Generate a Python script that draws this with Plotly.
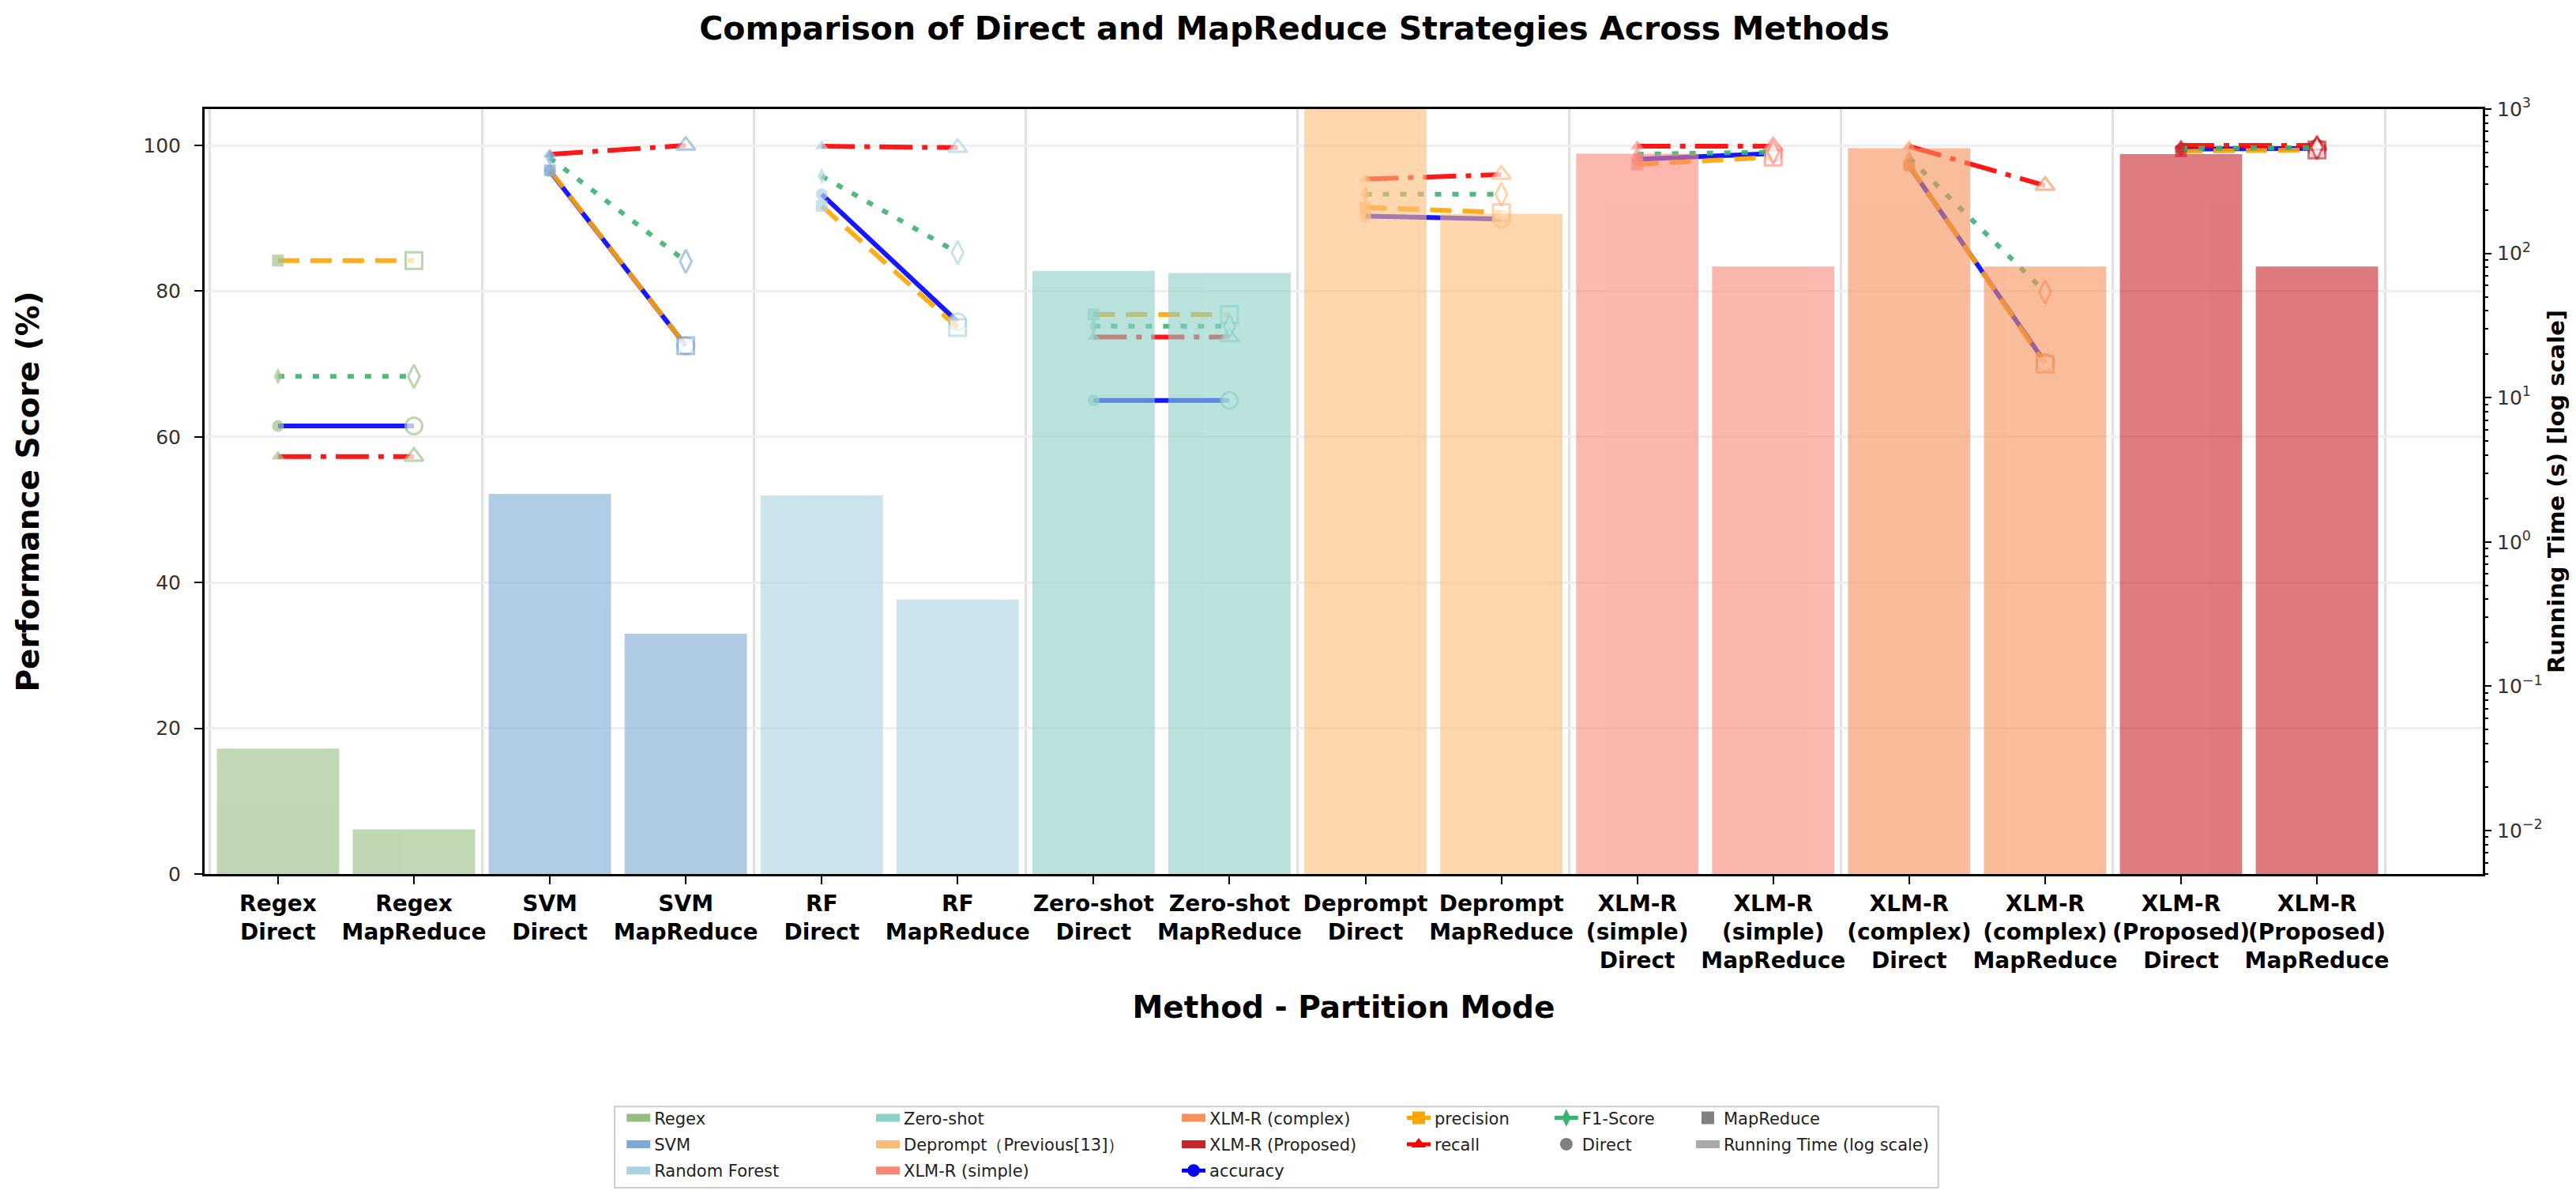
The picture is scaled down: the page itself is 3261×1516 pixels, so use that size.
import math
import plotly.graph_objects as go

FONT = "DejaVu Sans"

# categories
methods = ["Regex", "SVM", "Random Forest", "Zero-shot", "Deprompt（Previous[13]）",
           "XLM-R (simple)", "XLM-R (complex)", "XLM-R (Proposed)"]
tick_names = ["Regex", "SVM", "RF", "Zero-shot", "Deprompt",
              "XLM-R<br>(simple)", "XLM-R<br>(complex)", "XLM-R<br>(Proposed)"]
modes = ["Direct", "MapReduce"]
method_colors = ["#96BE82", "#7DAAD7", "#AAD2E1", "#8CD0C8",
                 "#FFBC78", "#FA8778", "#F5915A", "#C82328"]

# performance scores (%)
accuracy_direct = [61.5, 96.5, 93.3, 65.0, 90.3, 98.1, 97.2, 99.5]
accuracy_mapreduce = [61.5, 72.5, 75.8, 65.0, 89.9, 98.9, 70.2, 99.6]
precision_direct = [84.2, 96.6, 91.7, 76.8, 91.5, 97.4, 97.3, 99.2]
precision_mapreduce = [84.2, 72.5, 75.0, 76.8, 90.8, 98.4, 70.0, 99.4]
recall_direct = [57.3, 98.8, 99.9, 73.7, 95.4, 99.9, 99.9, 100.0]
recall_mapreduce = [57.3, 100.0, 99.7, 73.7, 96.0, 99.9, 94.5, 100.0]
f1_direct = [68.3, 98.3, 95.8, 75.2, 93.3, 98.8, 98.3, 99.6]
f1_mapreduce = [68.3, 84.1, 85.3, 75.2, 93.3, 99.1, 79.9, 99.7]

# running time (s)
time_direct = [0.037, 2.15, 2.1, 75.7, 1100, 490, 535, 487]
time_mapreduce = [0.0102, 0.231, 0.399, 73.1, 188, 81, 81, 81]

# right axis ticks
time_tickvals = [0.01, 0.1, 1, 10, 100, 1000]
time_ticktext = ["10<sup>−2</sup>", "10<sup>−1</sup>", "10<sup>0</sup>",
                 "10<sup>1</sup>", "10<sup>2</sup>", "10<sup>3</sup>"]

metrics = ["accuracy", "precision", "recall", "F1-Score"]
metric_colors = ["#0000FF", "#FFA500", "#FF0000", "#3CB371"]
metric_dash = ["solid", "27px,14px", "42px,12px,7px,12px", "8px,14px"]
metric_symbols = ["circle", "square", "triangle-up", "diamond-tall"]
metric_direct = [accuracy_direct, precision_direct, recall_direct, f1_direct]
metric_mapreduce = [accuracy_mapreduce, precision_mapreduce, recall_mapreduce, f1_mapreduce]

fig = go.Figure()

# Direct -> MapReduce lines per method and metric (drawn under the bars)
for i, col in enumerate(method_colors):
    for m in range(len(metrics)):
        fig.add_trace(go.Scatter(
            x=[2 * i, 2 * i + 1],
            y=[metric_direct[m][i], metric_mapreduce[m][i]],
            mode="lines+markers",
            line=dict(color=metric_colors[m], width=6, dash=metric_dash[m]),
            opacity=0.9,
            marker=dict(symbol=metric_symbols[m], size=[15, 21],
                        color=[col, "white"],
                        line=dict(color=col, width=[0, 3])),
            showlegend=False,
        ))

# running time bars on log axis
for i, col in enumerate(method_colors):
    fig.add_trace(go.Bar(
        x=[2 * i, 2 * i + 1],
        y=[time_direct[i], time_mapreduce[i]],
        yaxis="y2",
        width=0.9,
        marker=dict(color=col, line=dict(width=0)),
        opacity=0.6,
        showlegend=False,
    ))

# legend entries, laid out column by column (thick line = colour swatch)
legend_cols = ["legend", "legend", "legend", "legend2", "legend2", "legend2",
               "legend3", "legend3"]
for i, name in enumerate(methods):
    fig.add_trace(go.Scatter(x=[None], y=[None], mode="lines", name=name,
                             line=dict(color=method_colors[i], width=14),
                             legend=legend_cols[i], legendgroup=name))
metric_legends = ["legend3", "legend4", "legend4", "legend5"]
for m, name in enumerate(metrics):
    fig.add_trace(go.Scatter(
        x=[None], y=[None], mode="lines+markers", name=name,
        line=dict(color=metric_colors[m], width=5, dash="solid"),
        marker=dict(symbol=metric_symbols[m], size=16, color=metric_colors[m]),
        legend=metric_legends[m], legendgroup=name))
fig.add_trace(go.Scatter(x=[None], y=[None], mode="markers", name="Direct",
                         marker=dict(symbol="circle", size=16, color="#808080"),
                         legend="legend5", legendgroup="Direct"))
fig.add_trace(go.Scatter(x=[None], y=[None], mode="markers", name="MapReduce",
                         marker=dict(symbol="square", size=16, color="#808080"),
                         legend="legend6", legendgroup="MapReduce"))
fig.add_trace(go.Scatter(x=[None], y=[None], mode="lines", name="Running Time (log scale)",
                         line=dict(color="#AAAAAA", width=14),
                         legend="legend6", legendgroup="Running Time"))

tickvals = list(range(2 * len(methods)))
ticktext = []
for name in tick_names:
    for mode in modes:
        lines = name.split("<br>") + [mode]
        ticktext.append("<br>".join(f"<b>{s}</b>" for s in lines))

leg_common = dict(xanchor="left", yanchor="top", orientation="v",
                  bgcolor="rgba(0,0,0,0)", borderwidth=0, tracegroupgap=3,
                  font=dict(family=FONT, size=21, color="#222222"))
leg_x = [0.1835, 0.2930, 0.4272, 0.5260, 0.5908, 0.6529]
leg_y = -0.298

layout_legends = {}
for k, lx in enumerate(leg_x):
    key = "legend" if k == 0 else f"legend{k + 1}"
    layout_legends[key] = dict(x=lx, y=leg_y, **leg_common)

fig.update_layout(
    width=3261, height=1516,
    margin=dict(l=251, r=126, t=130, b=418),
    paper_bgcolor="white", plot_bgcolor="white",
    font=dict(family=FONT, color="black"),
    barmode="overlay",
    title=dict(text="<b>Comparison of Direct and MapReduce Strategies Across Methods</b>",
               x=0.5, xanchor="center", y=0.982, yanchor="middle",
               font=dict(family=FONT, size=41, color="black")),
    xaxis=dict(range=[-0.54, 16.22], tickvals=tickvals, ticktext=ticktext,
               tickangle=0,
               tickfont=dict(family=FONT, size=28, color="black"),
               ticks="outside", ticklen=10, tickwidth=2, tickcolor="black",
               ticklabelstandoff=0,
               showline=True, linecolor="black", linewidth=3, mirror=True,
               showgrid=False, zeroline=False, automargin=False,
               minor=dict(tick0=-0.5, dtick=2, showgrid=True,
                          gridcolor="rgba(200,200,200,0.55)", gridwidth=3, ticks=""),
               title=dict(text="<b>Method - Partition Mode</b>", standoff=30,
                          font=dict(family=FONT, size=39, color="black"))),
    yaxis=dict(range=[0, 105], tickvals=[0, 20, 40, 60, 80, 100],
               tickfont=dict(family=FONT, size=25, color="#333333"),
               ticks="outside", ticklen=10, tickwidth=2, tickcolor="black",
               ticklabelstandoff=12,
               showline=True, linecolor="black", linewidth=3, mirror=True,
               showgrid=True, gridcolor="#EEEEEE", gridwidth=3, zeroline=False,
               automargin=False,
               title=dict(text="<b>Performance Score (%)</b>", standoff=120,
                          font=dict(family=FONT, size=39, color="black"))),
    yaxis2=dict(type="log", overlaying="y", side="right",
                range=[math.log10(0.005), 3],
                tickmode="array", tickvals=time_tickvals, ticktext=time_ticktext,
                tickfont=dict(family=FONT, size=25, color="#333333"),
                ticks="outside", ticklen=10, tickwidth=2, tickcolor="black",
                ticklabelstandoff=2,
                minor=dict(ticks="outside", ticklen=6, tickwidth=1.5,
                           tickcolor="black", dtick="D1", showgrid=False),
                showline=False, showgrid=False, zeroline=False, automargin=False,
                title=dict(text="<b>Running Time (s) [log scale]</b>", standoff=4,
                           font=dict(family=FONT, size=29, color="black"))),
    shapes=[dict(type="rect", xref="paper", yref="paper",
                 x0=0.1800, x1=0.7610, y0=-0.410, y1=-0.304,
                 line=dict(color="#CCCCCC", width=2), fillcolor="white",
                 layer="below")],
    **layout_legends,
)

fig.write_html("out.html")
